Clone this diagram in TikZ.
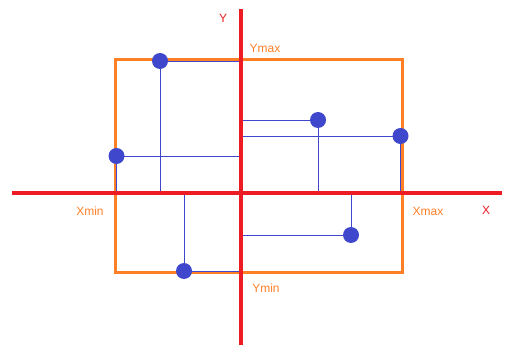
\documentclass[tikz,border=0pt]{standalone}
\usepackage{fontspec}
\setmainfont{Liberation Sans}
\usetikzlibrary{positioning, calc}
\definecolor{axisred}{HTML}{ED1C24}
\definecolor{boxorange}{HTML}{FF7F27}
\definecolor{dotblue}{HTML}{3F48CC}
\tikzset{
  axisline/.style  = {draw=axisred, line width=4pt},
  boundbox/.style  = {draw=boxorange, line width=3pt},
  proj/.style      = {draw=dotblue, line width=0.8pt},
  dot/.style       = {circle, fill=dotblue, inner sep=0pt, minimum size=16pt},
  axlabel/.style   = {text=axisred, font=\fontsize{12}{14}\selectfont},
  boundlabel/.style= {text=boxorange, font=\fontsize{12}{14}\selectfont},
}
\begin{document}
\begin{tikzpicture}[x=1pt, y=-1pt]
  \useasboundingbox (0,0) rectangle (505,347);

  % ----- axes ends and box corners -----
  \coordinate (o)  at (241,193);
  \coordinate (xl) at (12,193);
  \coordinate (xr) at (502,193);
  \coordinate (yt) at (241,9);
  \coordinate (yb) at (241,345);
  \coordinate (bl) at (115,272);
  \coordinate (tr) at (402,60);

  % bounding box
  \draw[boundbox] (bl) rectangle (tr);

  % ----- points -----
  \coordinate (c1) at (160,61);
  \coordinate (c2) at (318,120);
  \coordinate (c3) at (400.5,136);
  \coordinate (c4) at (116.5,156);
  \coordinate (c5) at (351,235);
  \coordinate (c6) at (184,271);

  % projections onto the axes
  \foreach \p in {c1,c2,c3,c4,c5,c6}
    {\draw[proj] (\p) -- (\p |- o);
     \draw[proj] (\p) -- (\p -| o);}

  % axes
  \draw[axisline] (xl) -- (xr);
  \draw[axisline] (yt) -- (yb);

  % dots on top
  \foreach \i in {1,...,6}
    {\node[dot] (p\i) at (c\i) {};}

  % labels
  \node[axlabel] (lx) at (486,210) {X};
  \node[axlabel] (ly) at (223,18) {Y};
  \node[boundlabel] (lxmin) at (90,211) {Xmin};
  \node[boundlabel] (lxmax) at (428,211) {Xmax};
  \node[boundlabel] (lymax) at (265,48) {Ymax};
  \node[boundlabel] (lymin) at (266,288) {Ymin};
\end{tikzpicture}
\end{document}
